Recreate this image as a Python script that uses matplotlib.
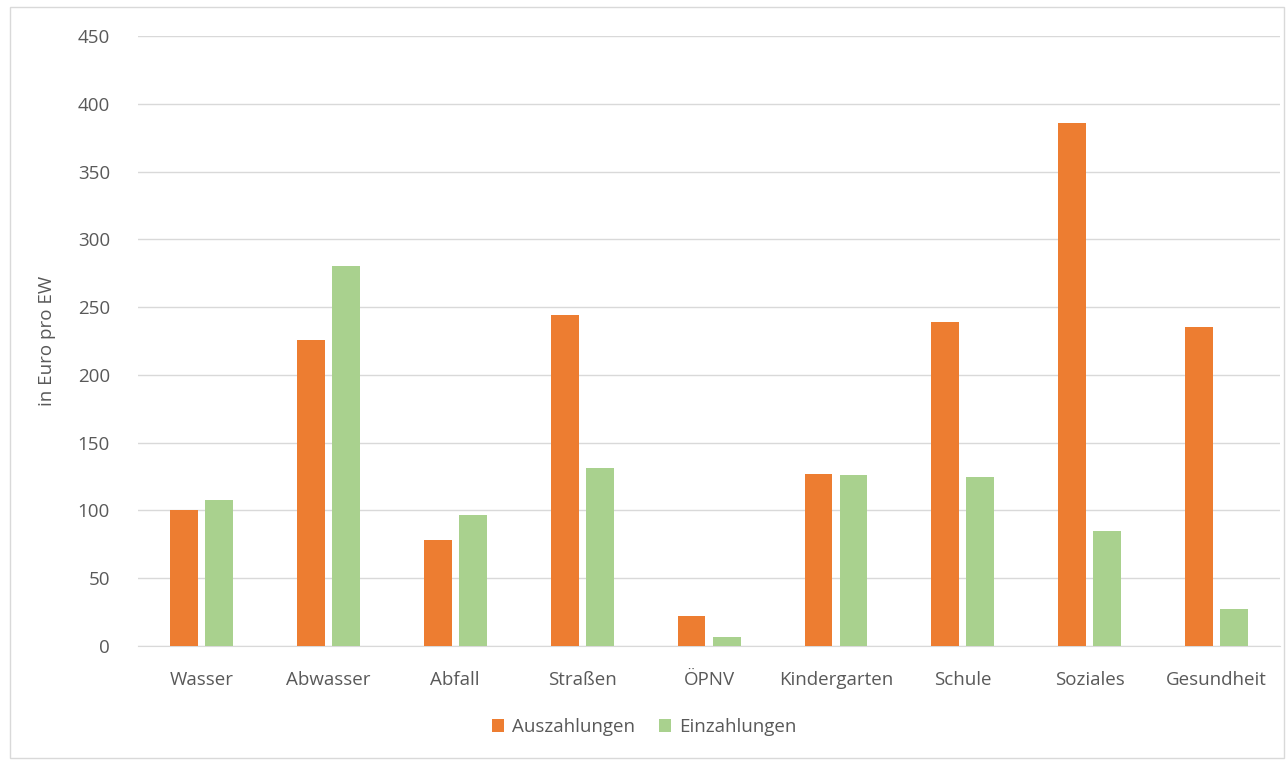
import matplotlib.pyplot as plt
import numpy as np
from matplotlib.patches import Rectangle

categories = ['Wasser', 'Abwasser', 'Abfall', 'Straßen', 'ÖPNV', 'Kindergarten', 'Schule', 'Soziales', 'Gesundheit']
auszahlungen = [100, 226, 78, 244, 22, 127, 239, 386, 235]
einzahlungen = [108, 280, 97, 131, 7, 126, 125, 85, 27]
y_ticks = [0, 50, 100, 150, 200, 250, 300, 350, 400, 450]

plt.rcParams['font.family'] = ['Open Sans', 'DejaVu Sans']
text_col = '#595959'
fs = 13.5

fig = plt.figure(figsize=(12.88, 7.6), dpi=100)
ax = fig.add_axes([0.107, 0.15, 0.887, 0.8026])

x = np.arange(len(categories))
w = 0.22
ax.bar(x - 0.138, auszahlungen, w, color='#ED7D31', label='Auszahlungen', zorder=3)
ax.bar(x + 0.138, einzahlungen, w, color='#A9D18E', label='Einzahlungen', zorder=3)

ax.set_xlim(-0.5, len(categories) - 0.5)
ax.set_ylim(0, 450)
ax.set_yticks(y_ticks)
ax.set_xticks(x)
ax.set_xticklabels(categories)
ax.grid(axis='y', color='#D9D9D9', linewidth=1, zorder=0)
ax.tick_params(length=0, labelsize=fs, colors=text_col)
ax.tick_params(axis='x', pad=18)
ax.tick_params(axis='y', pad=20)
for s in ['top', 'right', 'left']:
    ax.spines[s].set_visible(False)
ax.spines['bottom'].set_color('#D9D9D9')
ax.set_ylabel('in Euro pro EW', fontsize=fs, color=text_col, labelpad=16)

ax.legend(loc='center', bbox_to_anchor=(0.5, 1 - 727 / 760), bbox_transform=fig.transFigure,
          ncol=2, frameon=False, fontsize=fs, labelcolor=text_col,
          handlelength=0.65, handleheight=0.65, handletextpad=0.4, columnspacing=1.3)

fig.patches.append(Rectangle((10 / 1288, 2 / 760), 1274 / 1288, 751 / 760, transform=fig.transFigure,
                             fill=False, edgecolor='#D9D9D9', linewidth=1))

fig.savefig('out.png', dpi=100, facecolor='white')
